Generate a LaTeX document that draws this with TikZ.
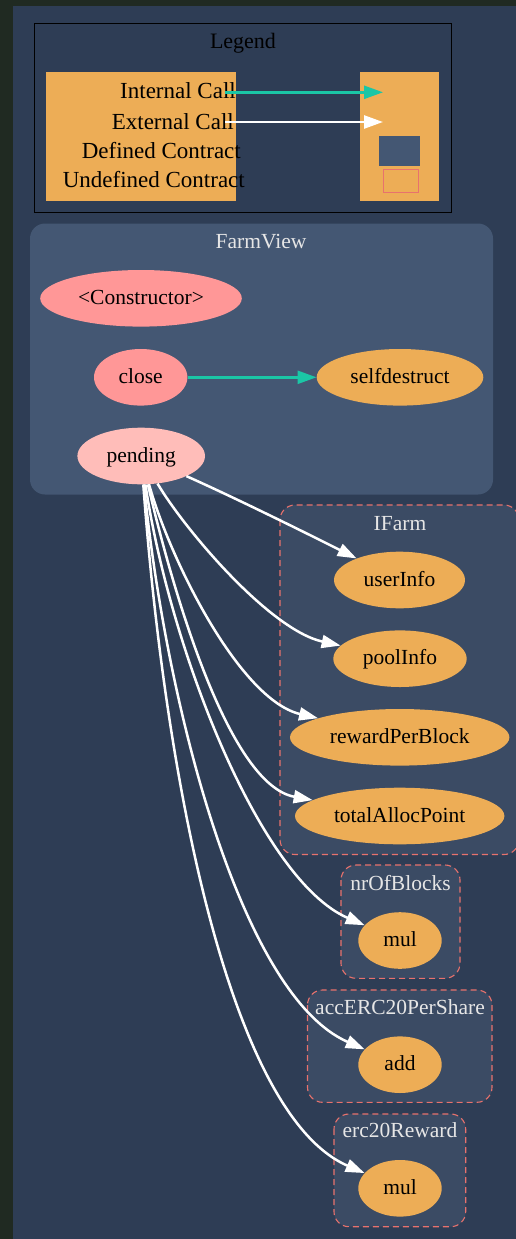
\documentclass[tikz,border=0pt]{standalone}
\usepackage{fontspec}
\setmainfont{Liberation Serif}
\usetikzlibrary{shapes.geometric,arrows.meta,calc}
\definecolor{outerbg}{HTML}{202A22}
\definecolor{panel}{HTML}{2E3D55}
\definecolor{clusterA}{HTML}{445773}
\definecolor{clusterB}{HTML}{3B4B64}
\definecolor{dashred}{HTML}{E8726D}
\definecolor{orng}{HTML}{EDAD56}
\definecolor{pinkred}{HTML}{FF9797}
\definecolor{pinklight}{HTML}{FFBDB9}
\definecolor{tealc}{HTML}{1BC6A6}
\definecolor{titlec}{HTML}{E6E6E6}
\tikzset{
  fnshape/.style={ellipse, draw=none, inner sep=0pt, minimum height=56.6pt},
  fnlabel/.style={anchor=base, inner sep=0pt, text=black},
  cltitle/.style={anchor=base, inner sep=0pt, text=titlec},
  extedge/.style={draw=white, line width=2.5pt, -{Triangle[length=19pt,width=13pt]}},
  intedge/.style={draw=tealc, line width=2.5pt, -{Triangle[length=19pt,width=13pt]}},
  cluster/.style={rounded corners=15pt, fill=clusterB, draw=dashred, line width=1.1pt, dash pattern=on 6pt off 4pt},
  legtext/.style={anchor=base east, inner sep=0pt, text=black, font=\fontsize{23}{27}\selectfont},
}
\newcommand\fnnode[6]{%
  \node[fnshape, fill=#5, minimum width=#4pt] (#1) at (#2,#3) {};
  \node[fnlabel] (#1-t) at ($(#1.center)+(0,6)$) {#6};}
\begin{document}
\begin{tikzpicture}[x=1pt,y=-1pt, font=\fontsize{21.5}{26}\selectfont]
\fill[outerbg] (0,0) rectangle (516,1239);
\useasboundingbox (0,0) rectangle (516,1239);
\fill[panel] (13,6) rectangle (516,1239);

% Legend
\draw[black, line width=1pt] (34.5,24) rectangle (451.5,212);
\node[anchor=base, inner sep=0pt, text=black, font=\fontsize{22}{26}\selectfont] (legtitle) at (243,48.5) {Legend};
\node[fill=orng, inner sep=0pt, minimum width=190pt, minimum height=129pt, anchor=north west] (legL) at (46,72) {};
\node[fill=orng, inner sep=0pt, minimum width=79pt, minimum height=129pt, anchor=north west] (legR) at (360,72) {};
\node[fill=clusterA, inner sep=0pt, minimum width=41pt, minimum height=29.5pt, anchor=north west] (legDef) at (379,136) {};
\node[draw=dashred, line width=1.1pt, inner sep=0pt, minimum width=35pt, minimum height=23.5pt, anchor=north west] (legUndef) at (382.5,168.5) {};
\node[legtext] (lt1) at (236,99) {Internal Call};
\node[legtext] (lt2) at (234,129) {External Call};
\node[legtext] (lt3) at (241,158) {Defined Contract};
\node[legtext] (lt4) at (245,187) {Undefined Contract};
\coordinate (icA) at (225,92.3);
\coordinate (icB) at (383,92.3);
\coordinate (ecA) at (225,122);
\coordinate (ecB) at (383,122);
\draw[intedge] (icA) -- (icB);
\draw[extedge] (ecA) -- (ecB);

% FarmView cluster
\fill[clusterA, rounded corners=15pt] (30,223.5) rectangle (493,494.5);
\node[cltitle] (fvtitle) at (261,248) {FarmView};
\fnnode{ctor}{141}{298.3}{201.6}{pinkred}{<Constructor>}
\fnnode{close}{140.7}{377.3}{93.4}{pinkred}{close}
\fnnode{selfdestruct}{400}{377.3}{166.6}{orng}{selfdestruct}
\fnnode{pending}{141.2}{456}{127.6}{pinklight}{pending}
\draw[intedge] (close) -- (selfdestruct);

% IFarm cluster
\draw[cluster] (280,505) rectangle (519,854.5);
\node[cltitle] (iftitle) at (400,530.5) {IFarm};
\fnnode{userInfo}{399.5}{580}{131}{orng}{userInfo}
\fnnode{poolInfo}{400}{658.7}{133.4}{orng}{poolInfo}
\fnnode{rewardPerBlock}{399.7}{737.3}{219.4}{orng}{rewardPerBlock}
\fnnode{totalAllocPoint}{399.7}{816}{209.4}{orng}{totalAllocPoint}

% nrOfBlocks cluster
\draw[cluster] (341,865) rectangle (460,978.3);
\node[cltitle] (nbtitle) at (400.5,890.5) {nrOfBlocks};
\fnnode{mulA}{400}{940.5}{83.4}{orng}{mul}

% accERC20PerShare cluster
\draw[cluster] (307.5,990) rectangle (492,1102.3);
\node[cltitle] (acctitle) at (400,1014) {accERC20PerShare};
\fnnode{add}{400}{1064.7}{83.4}{orng}{add}

% erc20Reward cluster
\draw[cluster] (334,1114) rectangle (465.7,1226.7);
\node[cltitle] (ertitle) at (400,1137.5) {erc20Reward};
\fnnode{mulB}{400}{1188.3}{83.4}{orng}{mul}

% external calls from pending
\draw[extedge] (pending) .. controls (240,500) and (320,540) .. (userInfo);
\draw[extedge] (pending) .. controls (185,530) and (270,630) .. (poolInfo);
\draw[extedge] (pending) .. controls (170,560) and (240,700) .. (rewardPerBlock);
\draw[extedge] (pending) .. controls (175,600) and (230,785) .. (totalAllocPoint);
\draw[extedge] (pending) .. controls (170,650) and (260,880) .. (mulA);
\draw[extedge] (pending) .. controls (165,700) and (240,995) .. (add);
\draw[extedge] (pending) .. controls (165,780) and (230,1115) .. (mulB);
\end{tikzpicture}
\end{document}
